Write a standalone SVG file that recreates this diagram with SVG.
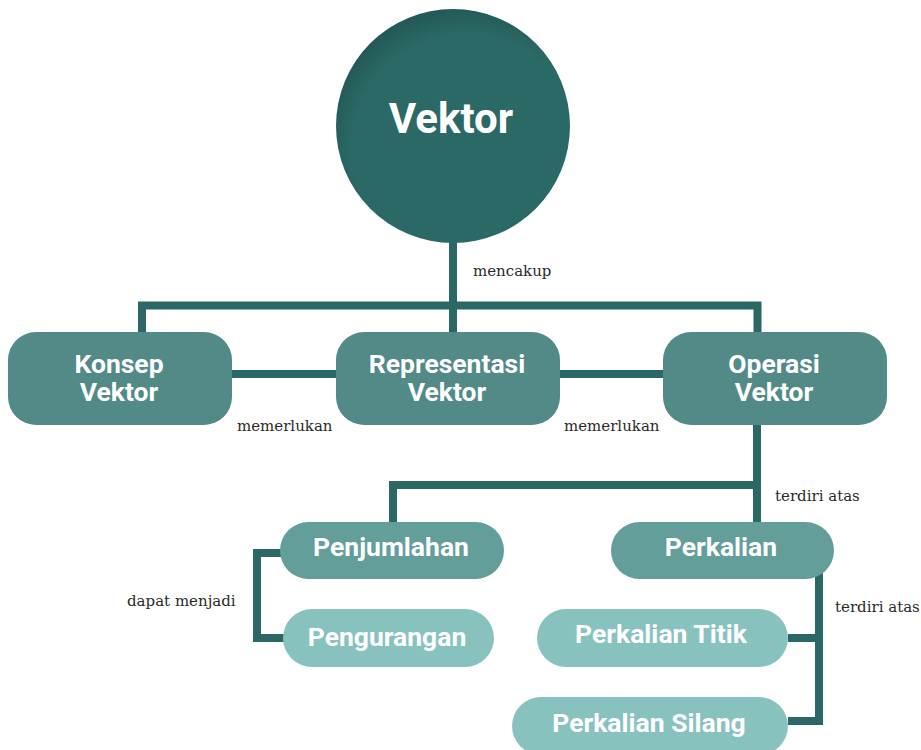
<svg xmlns="http://www.w3.org/2000/svg" width="921" height="750" viewBox="0 0 921 750">
<defs>
<radialGradient id="cg" cx="0.56" cy="0.6" r="0.62">
<stop offset="0" stop-color="#2a6966"/>
<stop offset="0.8" stop-color="#2a6966"/>
<stop offset="1" stop-color="#225754"/>
</radialGradient>
<style>
.ln{fill:none;stroke:#2b6865;stroke-width:8;stroke-linejoin:miter}
.t{font-family:Roboto,"Liberation Sans",sans-serif;font-weight:bold;fill:#fff;text-anchor:middle}
.n{font-size:26.5px}
.lb{font-family:"DejaVu Serif","Liberation Serif",serif;font-size:15px;fill:#2a2a2a}
.l1{fill:#528a87}
.l2{fill:#639e9a}
.l3{fill:#88c2bf}
</style>
</defs>
<rect width="921" height="750" fill="#fff"/>
<g id="connectors">
<path class="ln" d="M453 240V332"/>
<path class="ln" d="M142 332V305.5H757.5V332"/>
<path class="ln" d="M232 374H336"/>
<path class="ln" d="M560 374H663"/>
<path class="ln" d="M757 425V522"/>
<path class="ln" d="M757 485H393V522"/>
<path class="ln" d="M284 553H257V638H284"/>
<path class="ln" d="M815 572H819V721H788"/>
<path class="ln" d="M788 638H819"/>
<text class="lb" x="473" y="276">mencakup</text>
<text class="lb" x="237" y="431">memerlukan</text>
<text class="lb" x="564" y="431">memerlukan</text>
<text class="lb" x="775" y="501">terdiri atas</text>
<text class="lb" x="835" y="612">terdiri atas</text>
<text class="lb" x="127" y="606">dapat menjadi</text>
</g>
<g id="vektor">
<circle cx="453" cy="126" r="117" fill="url(#cg)"/>
<text class="t" x="451" y="133" font-size="42">Vektor</text>
</g>
<g id="konsep">
<rect class="l1" x="8" y="332" width="224" height="93" rx="28"/>
<text class="t n" x="119" y="373">Konsep</text>
<text class="t n" x="119" y="401">Vektor</text>
</g>
<g id="representasi">
<rect class="l1" x="336" y="332" width="224" height="93" rx="28"/>
<text class="t n" x="447" y="373">Representasi</text>
<text class="t n" x="447" y="401">Vektor</text>
</g>
<g id="operasi">
<rect class="l1" x="663" y="332" width="224" height="93" rx="28"/>
<text class="t n" x="774" y="373">Operasi</text>
<text class="t n" x="774" y="401">Vektor</text>
</g>
<g id="penjumlahan">
<rect class="l2" x="280" y="522" width="224" height="57" rx="28.5"/>
<text class="t n" x="391" y="556">Penjumlahan</text>
</g>
<g id="pengurangan">
<rect class="l3" x="283" y="609" width="211" height="58" rx="29"/>
<text class="t n" x="387" y="646">Pengurangan</text>
</g>
<g id="perkalian">
<rect class="l2" x="611" y="522" width="223" height="57" rx="28.5"/>
<text class="t n" x="721" y="556">Perkalian</text>
</g>
<g id="perkalian-titik">
<rect class="l3" x="537" y="609" width="251" height="58" rx="29"/>
<text class="t n" x="661" y="643">Perkalian Titik</text>
</g>
<g id="perkalian-silang">
<rect class="l3" x="512" y="697" width="276" height="58" rx="29"/>
<text class="t n" x="649" y="732">Perkalian Silang</text>
</g>
</svg>
